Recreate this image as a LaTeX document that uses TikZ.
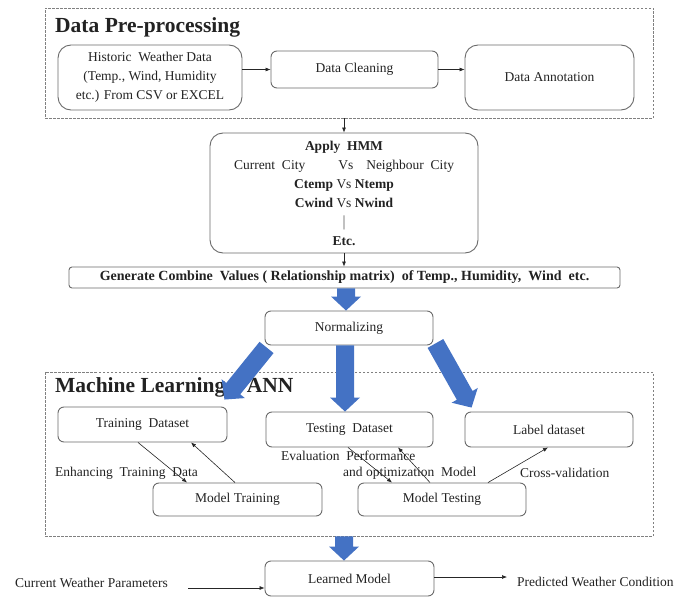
\documentclass[tikz,border=0pt]{standalone}
\usepackage{fontspec}
\setmainfont{Liberation Serif}
\usetikzlibrary{arrows.meta,calc}
\definecolor{arrowblue}{HTML}{4472C4}
\definecolor{boxgray}{HTML}{6A6A6A}
\definecolor{textgray}{HTML}{222222}
\newcommand\blockarrow[2]{%
  \fill[arrowblue] let \p1=(#1), \p2=(#2), \n1={atan2(\y2-\y1,\x2-\x1)} in
    ($(#1)+(\n1+90:9pt)$) --
    ($(#2)+(\n1+180:14pt)+(\n1+90:9pt)$) --
    ($(#2)+(\n1+180:14pt)+(\n1+90:15pt)$) --
    (#2) --
    ($(#2)+(\n1+180:14pt)+(\n1-90:15pt)$) --
    ($(#2)+(\n1+180:14pt)+(\n1-90:9pt)$) --
    ($(#1)+(\n1-90:9pt)$) -- cycle;}
\begin{document}
\begin{tikzpicture}[x=1pt,y=-1pt,
  box/.style={draw=boxgray,line width=0.9pt,rounded corners=6pt,inner sep=0pt,align=center,
    text=textgray,font=\fontsize{13.5}{19}\selectfont},
  bigbox/.style={box,rounded corners=13pt},
  region/.style={draw=gray,dash pattern=on 2.5pt off 1.5pt,line width=0.8pt,inner sep=0pt},
  thinarrow/.style={draw=black!85,line width=0.6pt,-{Latex[length=5pt,width=4pt]}},
  lbl/.style={font=\fontsize{13.5}{16}\selectfont,inner sep=0pt,text=textgray},
  title/.style={font=\fontsize{21.5}{24}\selectfont\bfseries,inner sep=0pt,anchor=base west,text=textgray}]
\useasboundingbox (0,0) rectangle (694,597);

% regions
\node[region,minimum width=608pt,minimum height=110pt] (pre) at (349,63) {};
\node[region,minimum width=608pt,minimum height=164pt] (ml) at (349,454) {};
\node[title] (pretitle) at (55,32) {Data Pre-processing};
\node[title] (mltitle) at (55,392) {Machine Learning -- ANN};

% pre-processing
\node[bigbox,minimum width=184pt,minimum height=65pt] (hist) at (150,77.5)
  {Historic\ \ Weather\ Data\\(Temp., Wind, Humidity\\etc.) From CSV or EXCEL};
\node[box,minimum width=167pt,minimum height=37pt] (clean) at (354.5,69.5) {Data Cleaning};
\node[bigbox,minimum width=169pt,minimum height=65pt] (annot) at (549.5,77.5) {Data Annotation};

% HMM
\node[bigbox,minimum width=268pt,minimum height=120pt] (hmm) at (344,193)
  {\textbf{Apply\ \ HMM}\\Current\ \ City\hspace{33pt}Vs\hspace{13pt}Neighbour\ \ City\\
   \textbf{Ctemp} Vs \textbf{Ntemp}\\\textbf{Cwind} Vs \textbf{Nwind}\\$|$\\\textbf{Etc.}};

\node[box,rounded corners=3pt,minimum width=551pt,minimum height=21pt,font=\fontsize{14}{16}\selectfont\bfseries]
  (gen) at (344.5,277.5) {Generate Combine\ \ Values ( Relationship matrix) \ of Temp., Humidity, \ Wind \ etc.};

\node[box,minimum width=168pt,minimum height=34pt] (norm) at (349,328) {Normalizing};

% ML
\node[box,minimum width=169pt,minimum height=35pt] (train) at (142.5,424.5) {Training\ \ Dataset};
\node[box,minimum width=167pt,minimum height=35pt] (test) at (349.5,429.5) {Testing\ \ Dataset};
\node[box,minimum width=168pt,minimum height=35pt] (label) at (549,429.5) {Label dataset};
\node[box,minimum width=169pt,minimum height=33pt] (mtrain) at (237.5,499.5) {Model Training};
\node[box,minimum width=168pt,minimum height=33pt] (mtest) at (442,499.5) {Model Testing};

\node[lbl,anchor=west] (enh) at (55,473) {Enhancing\ \ Training\ \ Data};
\node[lbl,anchor=west] (eval1) at (281,456) {Evaluation\ \ Performance};
\node[lbl,anchor=west] (eval2) at (343,473) {and optimization\ \ Model};
\node[lbl,anchor=west] (cross) at (520,473) {Cross-validation};

% bottom
\node[box,minimum width=169pt,minimum height=35pt] (learned) at (349.5,578.5) {Learned Model};
\node[lbl,anchor=west] (cw) at (15,583) {Current\ Weather\ Parameters};
\node[lbl,anchor=west] (pred) at (517,582) {Predicted\ Weather\ Condition};

% thin arrows
\draw[thinarrow] (hist.east |- clean.west) -- (clean.west);
\draw[thinarrow] (clean.east) -- (clean.east -| annot.west);
\draw[thinarrow] (pre.south -| hmm.north) -- (hmm.north);
\draw[thinarrow] (hmm.south) -- (hmm.south |- gen.north);

\draw[thinarrow] ([xshift=-4.5pt]train.south) -- ([xshift=-50.5pt]mtrain.north);
\draw[thinarrow] ([xshift=-2.5pt]mtrain.north) -- ([xshift=48.5pt]train.south);
\draw[thinarrow] ([xshift=-1.5pt]test.south) -- ([xshift=-50pt]mtest.north);
\draw[thinarrow] ([xshift=-12pt]mtest.north) -- ([xshift=48.5pt]test.south);
\draw[thinarrow] ([xshift=46pt]mtest.north) -- ([xshift=-1pt]label.south);

\coordinate (cwa) at (188,588);
\draw[thinarrow] (cwa) -- (cwa -| learned.west);
\coordinate (pa) at (507,577);
\draw[thinarrow] (pa -| learned.east) -- (pa);

% block arrows
\coordinate (b1s) at ([xshift=1.5pt]gen.south);
\coordinate (b1e) at (b1s |- norm.north);
\blockarrow{b1s}{b1e}
\coordinate (b2s) at ([xshift=-4pt]norm.south);
\coordinate (b2e) at (b2s |- test.north);
\blockarrow{b2s}{b2e}
\coordinate (b3s) at ([xshift=2pt,yshift=-2pt]norm.south west);
\coordinate (b3e) at ([xshift=-3pt,yshift=7pt]train.north east);
\blockarrow{b3s}{b3e}
\coordinate (b4s) at ([xshift=2pt,yshift=2pt]norm.south east);
\coordinate (b4e) at ([xshift=7pt,yshift=4pt]label.north west);
\blockarrow{b4s}{b4e}
\coordinate (b5e) at ([xshift=-5.5pt]learned.north);
\coordinate (b5s) at (b5e |- ml.south);
\blockarrow{b5s}{b5e}
\end{tikzpicture}
\end{document}
